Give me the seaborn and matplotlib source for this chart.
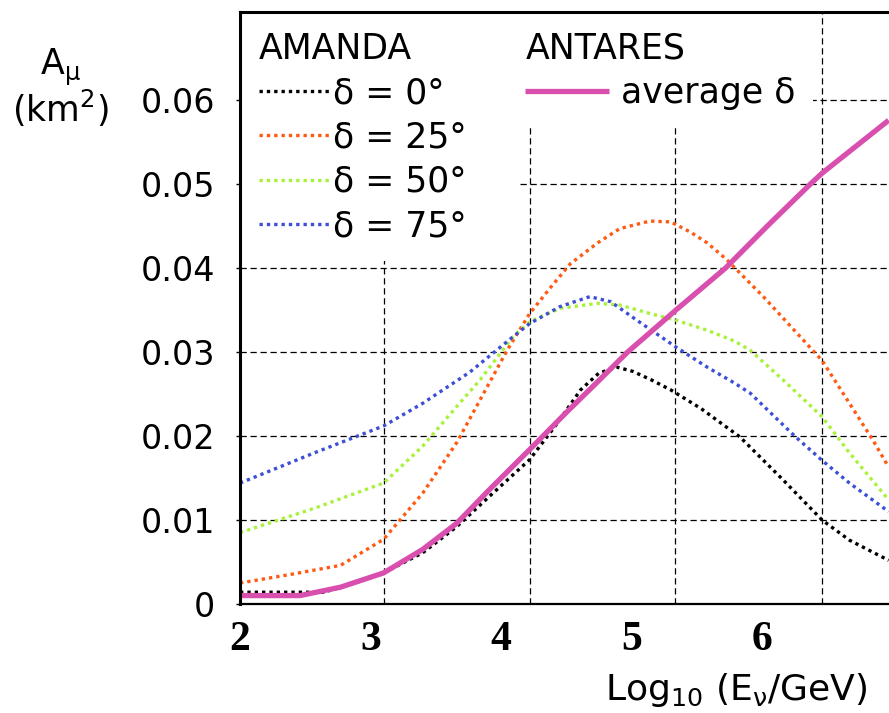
import matplotlib
matplotlib.use("Agg")
import matplotlib.pyplot as plt
import seaborn as sns

# AMANDA effective areas (km^2) vs log10(E/GeV), one list per declination
logE_0 = [2.00, 2.64, 2.84, 3.10, 3.40, 3.66, 3.91, 4.22, 4.43, 4.61, 4.75, 4.89, 5.01, 5.15, 5.30, 5.53, 5.83, 6.16, 6.46, 6.67, 6.97]
area_0 = [0.0014, 0.0014, 0.0023, 0.0037, 0.0061, 0.0092, 0.0128, 0.0172, 0.0215, 0.0255, 0.0275, 0.0282, 0.0277, 0.0267, 0.0255, 0.0233, 0.0199, 0.0148, 0.0100, 0.0076, 0.0052]

logE_25 = [2.00, 2.38, 2.77, 3.10, 3.40, 3.66, 3.92, 4.05, 4.22, 4.38, 4.53, 4.74, 4.91, 5.14, 5.30, 5.45, 5.58, 5.73, 6.01, 6.46, 6.67, 6.85, 6.97]
area_25 = [0.0025, 0.0035, 0.0046, 0.0077, 0.0132, 0.0192, 0.0266, 0.0303, 0.0346, 0.0377, 0.0405, 0.0430, 0.0447, 0.0456, 0.0455, 0.0443, 0.0430, 0.0410, 0.0366, 0.0290, 0.0239, 0.0195, 0.0163]

logE_50 = [2.00, 2.57, 3.10, 3.40, 3.66, 3.84, 4.09, 4.22, 4.45, 4.74, 4.91, 5.14, 5.34, 5.58, 5.79, 5.91, 6.16, 6.46, 6.67, 6.97]
area_50 = [0.0085, 0.0114, 0.0144, 0.0188, 0.0235, 0.0267, 0.0318, 0.0336, 0.0352, 0.0358, 0.0356, 0.0346, 0.0338, 0.0326, 0.0313, 0.0302, 0.0267, 0.0223, 0.0180, 0.0124]

logE_75 = [2.00, 2.57, 3.10, 3.40, 3.76, 4.09, 4.22, 4.45, 4.68, 4.84, 5.04, 5.34, 5.58, 5.79, 5.91, 6.25, 6.46, 6.67, 6.97]
area_75 = [0.0144, 0.0180, 0.0212, 0.0239, 0.0276, 0.0318, 0.0334, 0.0354, 0.0366, 0.0360, 0.0338, 0.0306, 0.0282, 0.0263, 0.0251, 0.0200, 0.0171, 0.0144, 0.0110]

# ANTARES, averaged over declination
logE_ant = [2.00, 2.46, 2.77, 3.10, 3.40, 3.66, 3.91, 4.22, 4.50, 4.71, 4.97, 5.34, 5.72, 6.04, 6.37, 6.46, 6.97]
area_ant = [0.0010, 0.0010, 0.0020, 0.0037, 0.0065, 0.0096, 0.0136, 0.0184, 0.0228, 0.0260, 0.0300, 0.0350, 0.0400, 0.0450, 0.0500, 0.0513, 0.0576]

amanda_labels = ["δ = 0°", "δ = 25°", "δ = 50°", "δ = 75°"]
amanda_colors = ["#000000", "#ff5a14", "#a8f23c", "#3d4fd6"]
antares_label = "average δ"
antares_color = "#d84fae"

x_ticks = [2, 3, 4, 5, 6]
y_ticks = [0, 0.01, 0.02, 0.03, 0.04, 0.05, 0.06]
y_ticklabels = ["0", "0.01", "0.02", "0.03", "0.04", "0.05", "0.06"]
# the dashed vertical grid in the original sits off the labelled ticks
grid_x = [3.10, 4.22, 5.33, 6.46]

sns.set_theme(style="white")
plt.rcParams["font.family"] = ["DejaVu Sans"]
plt.rcParams["mathtext.default"] = "regular"
plt.rcParams["text.color"] = "black"
plt.rcParams["xtick.color"] = "black"
plt.rcParams["ytick.color"] = "black"

fig = plt.figure(figsize=(8.89, 7.13), dpi=100)
ax = fig.add_axes([0.2700, 0.1529, 0.7300, 0.8303])

dots = (0, (1.0, 1.2))
amanda_lines = []
for xs, ys, lab, col in zip([logE_0, logE_25, logE_50, logE_75],
                            [area_0, area_25, area_50, area_75],
                            amanda_labels, amanda_colors):
    sns.lineplot(x=xs, y=ys, color=col, lw=2.4, linestyle=dots, ax=ax, legend=False)
    amanda_lines.append(ax.lines[-1])

sns.lineplot(x=logE_ant, y=area_ant, color=antares_color, lw=3.8, ax=ax, legend=False)
ant_line = ax.lines[-1]
ant_line.set_solid_capstyle("butt")
ant_line.set_solid_joinstyle("round")

ax.set_xlim(2, 6.973)
ax.set_ylim(0, 0.0705)

# grid
ax.set_axisbelow(True)
ax.set_xticks(x_ticks)
ax.set_xticks(grid_x, minor=True)
ax.set_yticks(y_ticks)
ax.set_yticklabels(y_ticklabels)
ax.grid(which="minor", axis="x", color="black", lw=0.9, ls=(0, (5, 3)))
ax.grid(which="major", axis="y", color="black", lw=0.9, ls=(0, (5, 3)))
ax.grid(which="major", axis="x", visible=False)

ax.tick_params(axis="x", which="both", bottom=False, top=False, pad=6)
ax.tick_params(axis="y", which="major", left=True, length=3, width=1,
               pad=15, labelsize=24, labelcolor="black")
for lbl in ax.get_xticklabels():
    lbl.set_fontfamily("Liberation Serif")
    lbl.set_fontweight("bold")
    lbl.set_fontsize(30)
    lbl.set_color("black")

for side in ["left", "top"]:
    ax.spines[side].set_color("black")
    ax.spines[side].set_linewidth(2.2)
ax.spines["bottom"].set_color("black")
ax.spines["bottom"].set_linewidth(1.6)
ax.spines["right"].set_visible(False)
ax.set_xlabel("")
ax.set_ylabel("")

leg1 = ax.legend(amanda_lines, amanda_labels, title="AMANDA", loc="upper left",
                 bbox_to_anchor=(0.002, 0.0, 0.425, 0.996), mode="expand",
                 borderaxespad=0, fontsize=25, title_fontsize=25, frameon=True,
                 facecolor="white", edgecolor="none", framealpha=1, fancybox=False,
                 handlelength=2.05, handletextpad=0.1, labelspacing=0.3,
                 borderpad=0.5, alignment="left")
leg1.set_zorder(1)
ax.add_artist(leg1)

leg2 = ax.legend([ant_line], [antares_label], title="ANTARES", loc="upper left",
                 bbox_to_anchor=(0.413, 0.996), borderaxespad=0, fontsize=25,
                 title_fontsize=25, frameon=True, facecolor="white", edgecolor="none",
                 framealpha=1, fancybox=False, handlelength=2.4, handletextpad=0.35,
                 labelspacing=0.3, borderpad=0.5, alignment="left")
leg2.set_zorder(1)

fig.text(60 / 889, 1 - 88 / 713, "A$_\\mu$\n(km$^2$)", ha="center", va="center",
         fontsize=25, linespacing=1.0)
fig.text(868 / 889, 1 - 690 / 713, "Log$_{10}$ (E$_\\nu$/GeV)", ha="right",
         va="center", fontsize=26)

fig.savefig("out.png", dpi=100)
